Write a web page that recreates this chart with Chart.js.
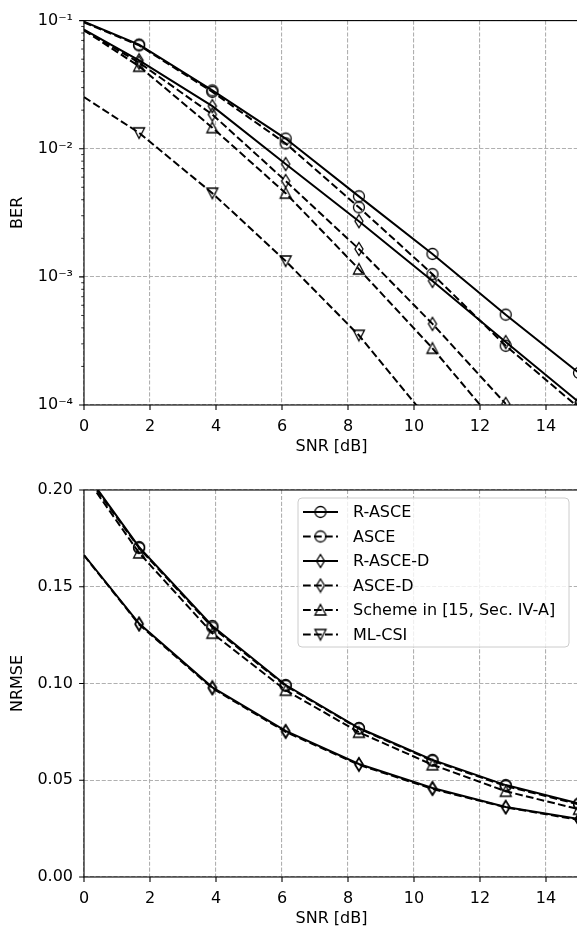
<!DOCTYPE html>
<html>
<head>
<meta charset="utf-8">
<script src="https://cdn.jsdelivr.net/npm/chart.js@4"></script>
<style>
    html, body { margin: 0; padding: 0; background: #fff; overflow: hidden; }
    canvas { display: block; }
</style>
</head>
<body>
<canvas id="berChart" width="580" height="455"></canvas>
<canvas id="nrmseChart" width="580" height="472"></canvas>
<script>
// SNR points (markers at every point except the first)
const snr = [0, 1.67, 3.89, 6.11, 8.33, 10.56, 12.78, 15];
const snrTicks = [0, 2, 4, 6, 8, 10, 12, 14];
const seriesNames = ['R-ASCE', 'ASCE', 'R-ASCE-D', 'ASCE-D', 'Scheme in [15, Sec. IV-A]', 'ML-CSI'];

// BER (top panel), null = below the visible range
const berRAsce  = [0.098, 0.065, 0.0285, 0.0120, 0.00425, 0.00151, 0.000507, 0.000178];
const berAsce   = [0.097, 0.064, 0.0278, 0.0110, 0.00349, 0.00105, 0.000290, 0.000095];
const berRAsceD = [0.085, 0.049, 0.0215, 0.0076, 0.00272, 0.00093, 0.000310, 0.000105];
const berAsceD  = [0.084, 0.047, 0.0185, 0.0056, 0.00165, 0.00043, 0.000102, null];
const berScheme = [0.084, 0.044, 0.0146, 0.0045, 0.00115, 0.000277, 0.000058, null];
const berMlCsi  = [0.0253, 0.0133, 0.0045, 0.00133, 0.00035, 0.000070, null, null];
const berTicks = [1e-4, 1e-3, 1e-2, 1e-1];
const berTickLabels = ['10\u207B\u2074', '10\u207B\u00B3', '10\u207B\u00B2', '10\u207B\u00B9'];

// NRMSE (bottom panel), ML-CSI has no NRMSE curve
const nrmseRAsce  = [0.210, 0.1705, 0.1297, 0.0992, 0.0770, 0.0605, 0.0475, 0.0380];
const nrmseAsce   = [0.209, 0.1700, 0.1290, 0.0988, 0.0767, 0.0601, 0.0470, 0.0375];
const nrmseRAsceD = [0.1664, 0.1310, 0.0980, 0.0755, 0.0584, 0.0460, 0.0362, 0.0300];
const nrmseAsceD  = [0.1662, 0.1305, 0.0975, 0.0750, 0.0580, 0.0455, 0.0360, 0.0295];
const nrmseScheme = [0.208, 0.1675, 0.1260, 0.0965, 0.0748, 0.0580, 0.0443, 0.0350];
const nrmseMlCsi  = [];
const nrmseTicks = [0, 0.05, 0.10, 0.15, 0.20];

// styles per series
const markerKinds = ['circle', 'circle', 'thinDiamond', 'thinDiamond', 'triangleUp', 'triangleDown'];
const dashedSeries = [false, true, false, true, true, true];

Chart.defaults.font.family = '"DejaVu Sans", sans-serif';
Chart.defaults.font.size = 16;
Chart.defaults.color = '#000';

function makeMarker(kind) {
    const c = document.createElement('canvas');
    c.width = 16;
    c.height = 16;
    const g = c.getContext('2d');
    g.strokeStyle = '#000';
    g.lineWidth = 1.3;
    g.beginPath();
    if (kind === 'circle') {
        g.arc(8, 8, 5.5, 0, Math.PI * 2);
    } else if (kind === 'thinDiamond') {
        g.moveTo(8, 1.5); g.lineTo(12, 8); g.lineTo(8, 14.5); g.lineTo(4, 8); g.closePath();
    } else if (kind === 'triangleUp') {
        g.moveTo(8, 2.5); g.lineTo(13.5, 13); g.lineTo(2.5, 13); g.closePath();
    } else {
        g.moveTo(8, 13.5); g.lineTo(13.5, 3); g.lineTo(2.5, 3); g.closePath();
    }
    g.stroke();
    return c;
}
const markerImages = markerKinds.map(makeMarker);

function buildDatasets(allValues) {
    return seriesNames.map((name, i) => ({
        label: name,
        data: allValues[i].map((y, j) => ({ x: snr[j], y: y })),
        borderColor: '#000',
        borderWidth: 2,
        borderDash: dashedSeries[i] ? [7.7, 3.3] : [],
        fill: false,
        tension: 0,
        pointStyle: markerImages[i],
        pointRadius: ctx => ctx.dataIndex === 0 ? 0 : 6,
        pointHoverRadius: ctx => ctx.dataIndex === 0 ? 0 : 6
    }));
}

// spines + tick marks, matplotlib style
const framePlugin = {
    id: 'frame',
    afterDraw(chart, args, opts) {
        const { ctx, chartArea: a } = chart;
        const xs = chart.scales.x;
        const ys = chart.scales.y;
        ctx.save();
        ctx.strokeStyle = '#000';
        ctx.lineWidth = 1.1;
        ctx.beginPath();
        xs.ticks.forEach(t => {
            const px = xs.getPixelForValue(t.value);
            ctx.moveTo(px, a.bottom);
            ctx.lineTo(px, a.bottom + 4.9);
        });
        ys.ticks.forEach(t => {
            const py = ys.getPixelForValue(t.value);
            ctx.moveTo(a.left, py);
            ctx.lineTo(a.left - 4.9, py);
        });
        ctx.stroke();

        ctx.lineWidth = 0.8;
        ctx.beginPath();
        (opts.minorTicks || []).forEach(v => {
            const py = ys.getPixelForValue(v);
            ctx.moveTo(a.left, py);
            ctx.lineTo(a.left - 2.8, py);
        });
        ctx.stroke();

        ctx.lineWidth = 1.1;
        ctx.strokeRect(a.left, a.top, a.right - a.left, a.bottom - a.top);
        ctx.restore();
    }
};

// matplotlib-like legend in the upper right
const legendPlugin = {
    id: 'boxLegend',
    afterDraw(chart, args, opts) {
        if (!opts.show) return;
        const { ctx, chartArea: a } = chart;
        const datasets = chart.data.datasets;
        const w = 271, rowH = 24.5;
        const h = rowH * datasets.length + 2;
        const left = a.right - 10 - w;
        const top = a.top + 8;

        ctx.save();
        ctx.beginPath();
        ctx.roundRect(left, top, w, h, 4);
        ctx.fillStyle = 'rgba(255,255,255,0.8)';
        ctx.fill();
        ctx.strokeStyle = '#cccccc';
        ctx.lineWidth = 1;
        ctx.stroke();

        ctx.font = '16px "DejaVu Sans", sans-serif';
        ctx.textBaseline = 'middle';
        ctx.fillStyle = '#000';
        datasets.forEach((ds, i) => {
            const cy = top + 14 + i * rowH;
            ctx.strokeStyle = '#000';
            ctx.lineWidth = 2;
            ctx.setLineDash(ds.borderDash);
            ctx.beginPath();
            ctx.moveTo(left + 5, cy);
            ctx.lineTo(left + 40, cy);
            ctx.stroke();
            ctx.setLineDash([]);
            const img = ds.pointStyle;
            ctx.drawImage(img, left + 22.5 - img.width / 2, cy - img.height / 2);
            ctx.fillText(ds.label, left + 55, cy + 1);
        });
        ctx.restore();
    }
};

function xScale() {
    return {
        type: 'linear',
        min: 0,
        max: 15,
        afterBuildTicks: s => { s.ticks = snrTicks.map(v => ({ value: v })); },
        afterFit: s => { s.height = 50; },
        ticks: { autoSkip: false, maxRotation: 0, padding: 12, callback: v => String(v) },
        grid: { color: '#b0b0b0', lineWidth: 1.1, drawTicks: false },
        border: { display: false, dash: [4.1, 1.8] },
        title: { display: true, text: 'SNR [dB]', padding: { top: 0, bottom: -1 } }
    };
}

function yTitle(text) {
    return { display: true, text: text, padding: { top: 8, bottom: 0 } };
}

const berMinor = [];
for (let e = -4; e < -1; e++) {
    for (let m = 2; m <= 9; m++) berMinor.push(m * Math.pow(10, e));
}

new Chart(document.getElementById('berChart'), {
    type: 'line',
    data: {
        datasets: buildDatasets([berRAsce, berAsce, berRAsceD, berAsceD, berScheme, berMlCsi])
    },
    options: {
        responsive: false,
        animation: false,
        devicePixelRatio: 1,
        layout: { autoPadding: false, padding: { top: 18, right: 1, bottom: 0, left: 0 } },
        plugins: {
            legend: { display: false },
            tooltip: { enabled: false },
            frame: { minorTicks: berMinor },
            boxLegend: { show: false }
        },
        scales: {
            x: xScale(),
            y: {
                type: 'logarithmic',
                min: 1e-4,
                max: 1e-1,
                afterBuildTicks: s => { s.ticks = berTicks.map(v => ({ value: v })); },
                afterFit: s => { s.width = 84; },
                ticks: { autoSkip: false, padding: 11, callback: (v, i) => berTickLabels[i] },
                grid: { color: '#b0b0b0', lineWidth: 1.1, drawTicks: false },
                border: { display: false, dash: [4.1, 1.8] },
                title: yTitle('BER')
            }
        }
    },
    plugins: [framePlugin, legendPlugin]
});

new Chart(document.getElementById('nrmseChart'), {
    type: 'line',
    data: {
        datasets: buildDatasets([nrmseRAsce, nrmseAsce, nrmseRAsceD, nrmseAsceD, nrmseScheme, nrmseMlCsi])
    },
    options: {
        responsive: false,
        animation: false,
        devicePixelRatio: 1,
        layout: { autoPadding: false, padding: { top: 35, right: 1, bottom: 0, left: 0 } },
        plugins: {
            legend: { display: false },
            tooltip: { enabled: false },
            frame: { minorTicks: [] },
            boxLegend: { show: true }
        },
        scales: {
            x: xScale(),
            y: {
                type: 'linear',
                min: 0,
                max: 0.2,
                afterBuildTicks: s => { s.ticks = nrmseTicks.map(v => ({ value: v })); },
                afterFit: s => { s.width = 84; },
                ticks: { autoSkip: false, padding: 11, callback: v => v.toFixed(2) },
                grid: { color: '#b0b0b0', lineWidth: 1.1, drawTicks: false },
                border: { display: false, dash: [4.1, 1.8] },
                title: yTitle('NRMSE')
            }
        }
    },
    plugins: [framePlugin, legendPlugin]
});
</script>
</body>
</html>
